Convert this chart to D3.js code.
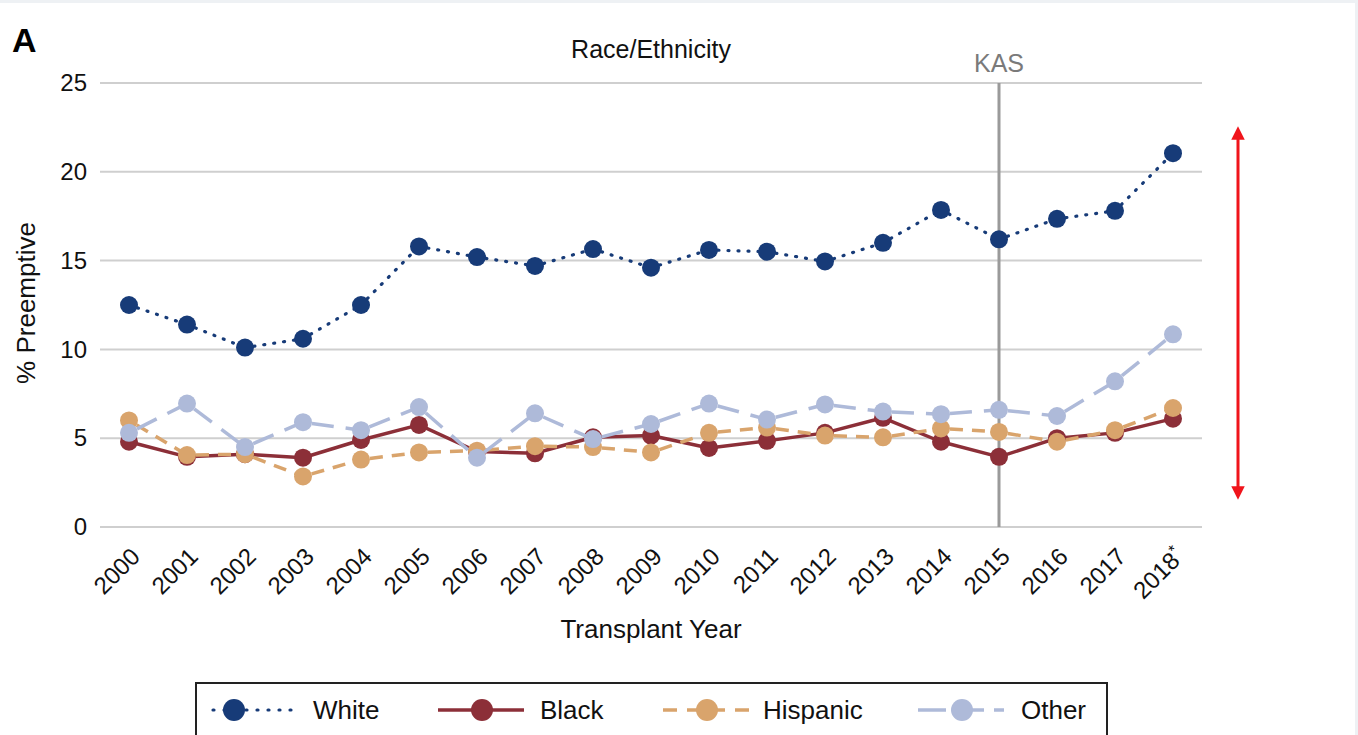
<!DOCTYPE html>
<html>
<head>
<meta charset="utf-8">
<script src="https://cdn.jsdelivr.net/npm/d3@7"></script>
<style>
  html, body { margin: 0; padding: 0; background: #fff; }
  svg { display: block; font-family: "Liberation Sans", Arial, Helvetica, sans-serif; }
</style>
</head>
<body>
<svg id="chart" width="1358" height="735"></svg>
<script>
// Transplant years on the x axis
const years = ["2000","2001","2002","2003","2004","2005","2006","2007","2008","2009",
               "2010","2011","2012","2013","2014","2015","2016","2017","2018*"];

// Percent of transplants that were preemptive, by race/ethnicity
const white    = [12.5,11.4,10.1,10.6,12.5,15.8,15.2,14.7,15.65,14.6,15.6,15.5,14.95,16.0,17.85,16.2,17.35,17.8,21.05];
const black    = [4.8,3.95,4.1,3.9,4.9,5.75,4.25,4.15,5.05,5.15,4.45,4.85,5.3,6.15,4.8,3.95,5.0,5.3,6.1];
const hispanic = [6.0,4.05,4.1,2.85,3.8,4.2,4.3,4.55,4.5,4.2,5.3,5.6,5.15,5.05,5.55,5.35,4.8,5.45,6.7];
const other    = [5.3,6.95,4.5,5.9,5.45,6.75,3.9,6.4,4.95,5.8,6.95,6.05,6.9,6.5,6.35,6.6,6.25,8.2,10.85];

const yTicks = [0, 5, 10, 15, 20, 25];
const kasYear = "2015";

const series = [
  { name: "White",    values: white,    color: "#173b78", dash: "1,9",   width: 3.2, cap: "round" },
  { name: "Black",    values: black,    color: "#8c2f38", dash: null,    width: 3.5, cap: "butt" },
  { name: "Hispanic", values: hispanic, color: "#d9a46c", dash: "13,9",  width: 3.5, cap: "butt" },
  { name: "Other",    values: other,    color: "#aebad9", dash: "22,12", width: 3.5, cap: "butt" }
];

const svg = d3.select("#chart");

// faint page frame
svg.append("rect").attr("x", 0).attr("y", 0).attr("width", 1358).attr("height", 3).attr("fill", "#eef1f4");
svg.append("rect").attr("x", 1355).attr("y", 0).attr("width", 3).attr("height", 735).attr("fill", "#eef1f4");

const plot = { left: 100, right: 1202, top: 83, bottom: 527 };

const x = d3.scalePoint().domain(years).range([129, 1173]);
const y = d3.scaleLinear().domain([0, 25]).range([plot.bottom, plot.top]);

// horizontal grid lines
svg.append("g")
  .selectAll("line")
  .data(yTicks)
  .join("line")
  .attr("x1", plot.left).attr("x2", plot.right)
  .attr("y1", d => y(d)).attr("y2", d => y(d))
  .attr("stroke", "#cfcfcf").attr("stroke-width", 2);

// y axis labels
const yAxis = d3.axisLeft(y).tickValues(yTicks).tickSize(0).tickPadding(13);
const gy = svg.append("g").attr("transform", `translate(${plot.left},0)`).call(yAxis);
gy.select(".domain").remove();
gy.selectAll("text").attr("font-size", 24).attr("fill", "#111")
  .attr("font-family", "Liberation Sans, Arial, sans-serif");

// x axis labels, rotated; a trailing asterisk is set as a superscript
const xAxis = d3.axisBottom(x).tickSize(0).tickPadding(0);
const gx = svg.append("g").attr("transform", `translate(0,${plot.bottom})`).call(xAxis);
gx.select(".domain").remove();
gx.selectAll("text")
  .attr("font-size", 24).attr("fill", "#111")
  .attr("font-family", "Liberation Sans, Arial, sans-serif")
  .attr("text-anchor", "end")
  .attr("dy", null).attr("y", 0)
  .attr("transform", "translate(12,31) rotate(-45)")
  .each(function(d) {
    if (d.endsWith("*")) {
      const t = d3.select(this).text(null);
      t.append("tspan").text(d.slice(0, -1));
      t.append("tspan").attr("font-size", 16).attr("dy", -9).text("*");
    }
  });

// KAS reference line
svg.append("line")
  .attr("x1", x(kasYear)).attr("x2", x(kasYear))
  .attr("y1", plot.top).attr("y2", plot.bottom)
  .attr("stroke", "#9a9a9a").attr("stroke-width", 3);
svg.append("text")
  .attr("x", x(kasYear)).attr("y", 72)
  .attr("text-anchor", "middle").attr("font-size", 25).attr("fill", "#7a7a7a")
  .text("KAS");

// series lines and markers
const line = d3.line().y(d => y(d));
series.forEach(s => {
  const g = svg.append("g");
  // each segment restarts its dash pattern
  for (let i = 0; i < s.values.length - 1; i++) {
    g.append("path")
      .attr("d", line.x((d, j) => x(years[i + j]))([s.values[i], s.values[i + 1]]))
      .attr("fill", "none")
      .attr("stroke", s.color)
      .attr("stroke-width", s.width)
      .attr("stroke-linecap", s.cap)
      .attr("stroke-dasharray", s.dash)
      .attr("stroke-dashoffset", s.dash ? -9 : null);
  }
  g.selectAll("circle")
    .data(s.values)
    .join("circle")
    .attr("cx", (d, i) => x(years[i]))
    .attr("cy", d => y(d))
    .attr("r", 9)
    .attr("fill", s.color);
});

// titles
svg.append("text").attr("x", 12).attr("y", 52)
  .attr("font-size", 34).attr("font-weight", "bold").attr("fill", "#000").text("A");
svg.append("text").attr("x", 651).attr("y", 58).attr("text-anchor", "middle")
  .attr("font-size", 25).attr("fill", "#111").text("Race/Ethnicity");
svg.append("text").attr("x", 651).attr("y", 638).attr("text-anchor", "middle")
  .attr("font-size", 26).attr("fill", "#111").text("Transplant Year");
svg.append("text")
  .attr("transform", "translate(35,303) rotate(-90)")
  .attr("text-anchor", "middle").attr("font-size", 26).attr("fill", "#111")
  .text("% Preemptive");

// red double-headed arrow
const defs = svg.append("defs");
defs.append("marker").attr("id", "arrowhead")
  .attr("viewBox", "0 0 10 10").attr("refX", 5).attr("refY", 5)
  .attr("markerWidth", 4.5).attr("markerHeight", 5.5)
  .attr("orient", "auto-start-reverse")
  .append("path").attr("d", "M0,0 L10,5 L0,10 Z").attr("fill", "#f0141b");
svg.append("line")
  .attr("x1", 1238).attr("x2", 1238).attr("y1", 133).attr("y2", 493)
  .attr("stroke", "#f0141b").attr("stroke-width", 3)
  .attr("marker-start", "url(#arrowhead)").attr("marker-end", "url(#arrowhead)");

// legend
const legend = svg.append("g");
legend.append("rect")
  .attr("x", 196).attr("y", 683).attr("width", 911).attr("height", 60)
  .attr("fill", "#fff").attr("stroke", "#222").attr("stroke-width", 2);
const legendPos = [
  { lx: 212, tx: 313 },
  { lx: 438, tx: 540 },
  { lx: 663, tx: 763 },
  { lx: 918, tx: 1021 }
];
const legendDash = { White: "1,10", Black: null, Hispanic: "14,10", Other: "28,10" };
series.forEach((s, i) => {
  const p = legendPos[i];
  const cy = 710;
  const L = 86;
  legend.append("line")
    .attr("x1", p.lx).attr("x2", p.lx + L).attr("y1", cy).attr("y2", cy)
    .attr("stroke", s.color).attr("stroke-width", s.width)
    .attr("stroke-linecap", s.cap)
    .attr("stroke-dasharray", legendDash[s.name])
    .attr("stroke-dashoffset", s.name === "White" ? -1 : 0);
  legend.append("circle").attr("cx", p.lx + 22 + (i === 0 ? 0 : 22)).attr("cy", cy).attr("r", 11).attr("fill", s.color);
  legend.append("text").attr("x", p.tx).attr("y", cy + 9)
    .attr("font-size", 26).attr("fill", "#111").text(s.name);
});
</script>
</body>
</html>
